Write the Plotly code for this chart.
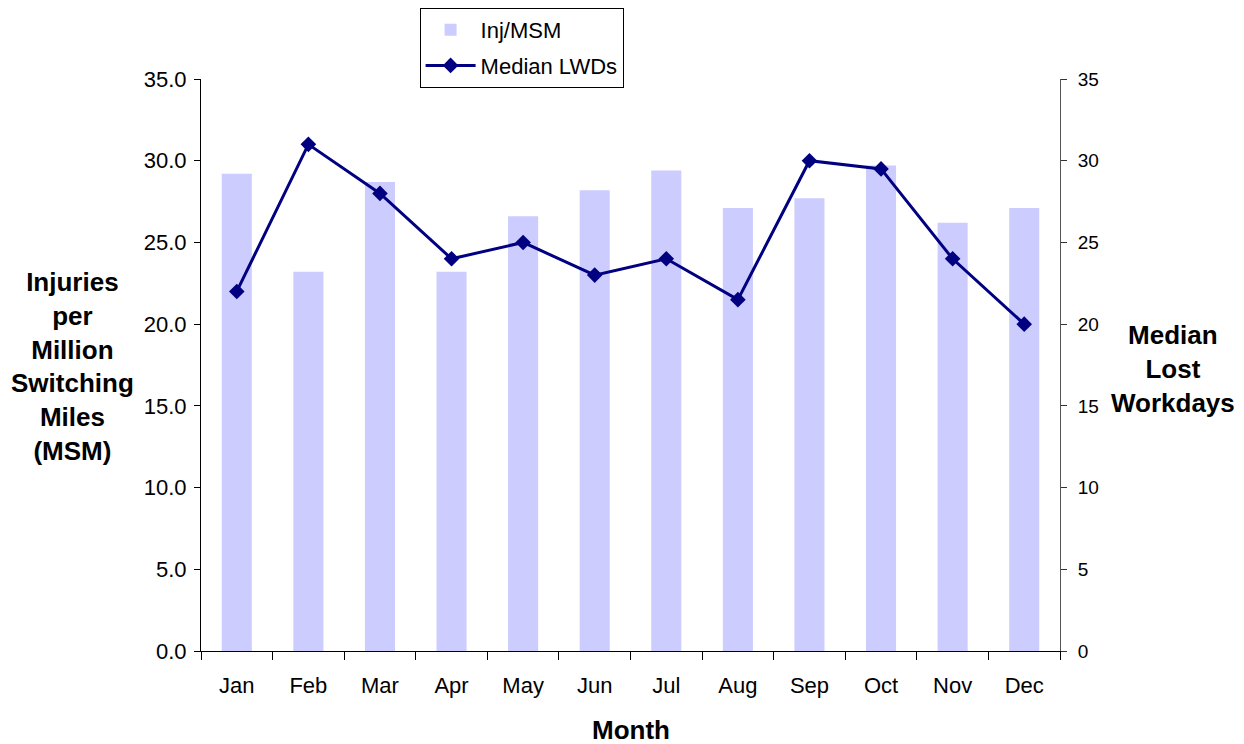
import plotly.graph_objects as go

months = ["Jan", "Feb", "Mar", "Apr", "May", "Jun", "Jul", "Aug", "Sep", "Oct", "Nov", "Dec"]
inj_msm = [29.2, 23.2, 28.7, 23.2, 26.6, 28.2, 29.4, 27.1, 27.7, 29.7, 26.2, 27.1]
median_lwds = [22, 31, 28, 24, 25, 23, 24, 21.5, 30, 29.5, 24, 20]
left_ticks = [0, 5, 10, 15, 20, 25, 30, 35]

FONT = "Liberation Sans, Arial, sans-serif"

fig = go.Figure()
fig.add_trace(go.Bar(
    x=months, y=inj_msm, name="Inj/MSM", legendgroup="a",
    marker=dict(color="#CCCCFF", line=dict(width=0)),
    yaxis="y",
))
fig.add_trace(go.Scatter(
    x=months, y=median_lwds, name="Median LWDs", mode="lines+markers", legendgroup="b",
    line=dict(color="#000080", width=3),
    marker=dict(symbol="diamond", size=12, color="#000080"),
    yaxis="y2",
))

fig.update_layout(
    template="none",
    width=1236, height=736,
    margin=dict(l=193, r=184, t=71, b=93, autoexpand=False),
    paper_bgcolor="white", plot_bgcolor="white",
    font=dict(family=FONT, size=22, color="black"),
    bargap=0.58,
    showlegend=True,
    legend=dict(
        xref="container", yref="container",
        x=0.333, y=1.0, xanchor="left", yanchor="top",
        bordercolor="black", borderwidth=1,
        font=dict(family=FONT, size=22, color="black"),
        bgcolor="white",
        traceorder="grouped", tracegroupgap=4,
        itemwidth=50,
    ),
    xaxis=dict(
        type="category", range=[-0.5, len(months) - 0.5],
        tickson="boundaries", ticks="outside", ticklen=8,
        tickcolor="black", showline=True, linecolor="black", linewidth=1,
        showgrid=False, tickfont=dict(size=22), automargin=False,
        ticklabelstandoff=15,
    ),
    yaxis=dict(
        range=[0, 35], tickvals=left_ticks, tickformat=".1f",
        ticks="outside", ticklen=6, tickcolor="black",
        showline=True, linecolor="black", linewidth=1, showgrid=False,
        zeroline=False, tickfont=dict(size=22), automargin=False,
        ticklabelstandoff=3,
    ),
    yaxis2=dict(
        range=[0, 35], tickvals=left_ticks, overlaying="y", side="right",
        ticks="outside", ticklen=6, tickcolor="#333333",
        showline=True, linecolor="#555555", linewidth=1, showgrid=False,
        zeroline=False, tickfont=dict(size=19), automargin=False,
        ticklabelstandoff=7,
    ),
    annotations=[
        dict(text="<b>Injuries<br>per<br>Million<br>Switching<br>Miles<br>(MSM)</b>",
             xref="paper", yref="paper", x=-0.150, y=0.498, showarrow=False,
             xanchor="center", yanchor="middle", align="center",
             font=dict(family=FONT, size=26, color="black")),
        dict(text="<b>Median<br>Lost<br>Workdays</b>",
             xref="paper", yref="paper", x=1.1315, y=0.493, showarrow=False,
             xanchor="center", yanchor="middle", align="center",
             font=dict(family=FONT, size=26, color="black")),
        dict(text="<b>Month</b>",
             xref="paper", yref="paper", x=0.5, y=-0.138, showarrow=False,
             xanchor="center", yanchor="middle",
             font=dict(family=FONT, size=26, color="black")),
    ],
)

fig.write_html("out.html")
